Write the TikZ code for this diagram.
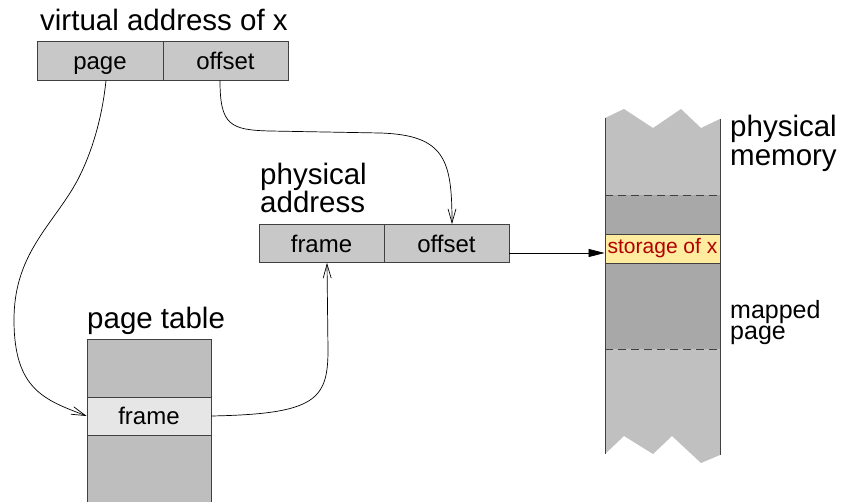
\documentclass[tikz,border=0pt]{standalone}
\usepackage{fontspec}
\setmainfont{Liberation Sans}
\usetikzlibrary{arrows.meta}
\definecolor{boxgray}{HTML}{C8C8C8}
\definecolor{tblgray}{HTML}{BEBEBE}
\definecolor{rowgray}{HTML}{E6E6E6}
\definecolor{memlight}{HTML}{C0C0C0}
\definecolor{memdark}{HTML}{A8A8A8}
\definecolor{storfill}{HTML}{FFEC9E}
\definecolor{stortext}{HTML}{B00000}
\definecolor{edgecol}{HTML}{404040}
\begin{document}
\begin{tikzpicture}[x=1pt,y=-1pt,
  cell/.style={draw=edgecol, line width=0.8pt, inner sep=0pt, text height=18pt, text depth=0pt,
    font=\fontsize{24}{26}\selectfont},
  title/.style={inner sep=0pt, anchor=base west, align=left, font=\fontsize{29.5}{27}\selectfont},
  link/.style={line width=0.7pt, -{Straight Barb[length=14pt,width=8pt]}},
  dashline/.style={draw=edgecol, line width=0.8pt, dash pattern=on 8pt off 5pt},
]
\useasboundingbox (0,0) rectangle (841,502);

% virtual address
\node[title] (vtitle) at (40,31) {virtual address of x};
\node[cell, fill=boxgray, minimum width=126pt, minimum height=39pt] (vpage) at (100,60.5) {page};
\node[cell, fill=boxgray, minimum width=125pt, minimum height=39pt] (voff) at (225.5,60.5) {offset};

% physical address
\node[title] (ptitle) at (260,213) {physical\\address};
\node[cell, fill=boxgray, minimum width=125pt, minimum height=38pt] (pframe) at (321.5,243.5) {frame};
\node[cell, fill=boxgray, minimum width=125pt, minimum height=38pt] (poff) at (446.5,243.5) {offset};

% page table
\node[title] (ttitle) at (87,329) {page table};
\node[cell, fill=tblgray, minimum width=124pt, minimum height=58pt] (pttop) at (149,368) {};
\node[cell, fill=rowgray, minimum width=124pt, minimum height=38pt] (ptframe) at (149,416) {frame};
\node[cell, fill=tblgray, minimum width=124pt, minimum height=72pt] (ptbot) at (149,471) {};

% physical memory
\fill[memlight] (605,195) -- (605,118) -- (624,109) -- (653,128) -- (681,109) -- (701,128) -- (720,119) -- (720,195) -- cycle;
\fill[memdark] (605,195) rectangle (720,349);
\fill[memlight] (605,349) -- (720,349) -- (720,455) -- (701,463) -- (672,436) -- (653,454) -- (624,436) -- (605,454) -- cycle;
\node[cell, fill=storfill, text=stortext, minimum width=115pt, minimum height=29pt,
  text height=14pt, text depth=4pt, font=\fontsize{21}{23}\selectfont] (stor) at (662.5,248.5) {storage of x};
\draw[edgecol, line width=0.8pt] (605,118) -- (605,454);
\draw[edgecol, line width=0.8pt] (720,119) -- (720,455);
\draw[dashline] (605,195) -- (720,195);
\draw[dashline] (605,349) -- (720,349);
\node[title, font=\fontsize{29.5}{29}\selectfont] (mtitle) at (730,166) {physical\\memory};
\node[title, font=\fontsize{25}{21}\selectfont] (mapped) at (730,340) {mapped\\page};

% connectors
\draw[link] ([xshift=6pt]vpage.south) .. controls (101,130) and (85,170) .. (70,193)
  .. controls (45,232) and (14,260) .. (14,320)
  .. controls (14,390) and (45,400) .. (ptframe.west);
\draw[link] ([xshift=-5.5pt]voff.south) .. controls (220,125) and (230,130) .. (270,131)
  -- (380,133) .. controls (445,135) and (452,160) .. ([xshift=5.5pt]poff.north);
\draw[link] (ptframe.east) .. controls (315,414) and (328,400) .. (328,350)
  -- ([xshift=5.5pt]pframe.south);
\draw[line width=0.7pt, -{Triangle[length=16pt,width=8pt]}] ([yshift=-9.5pt]poff.east) -- ([yshift=-4.5pt]stor.west);
\end{tikzpicture}
\end{document}
